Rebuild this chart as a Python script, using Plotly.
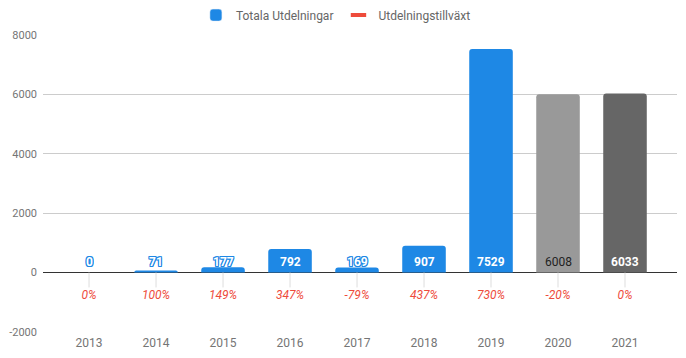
import plotly.graph_objects as go

years = ["2013", "2014", "2015", "2016", "2017", "2018", "2019", "2020", "2021"]
totals = [0, 71, 177, 792, 169, 907, 7529, 6008, 6033]
growth = ["0%", "100%", "149%", "347%", "-79%", "437%", "730%", "-20%", "0%"]
bar_colors = ["#1E88E5"] * 7 + ["#999999", "#666666"]
label_colors = ["#FFFFFF"] * 7 + ["#222222", "#FFFFFF"]
y_ticks = [-2000, 0, 2000, 4000, 6000, 8000]
y_ticktext = ["-2000", "0", "2000", "4000", "6000", "8000"]
growth_label_y = -800
tick_len = -500

fig = go.Figure()

# small category tick lines below the zero line
tx, ty = [], []
for yr in years:
    tx += [yr, yr, None]
    ty += [0, tick_len, None]
fig.add_trace(go.Scatter(x=tx, y=ty, mode="lines", line=dict(color="#DDDDDD", width=1),
                         showlegend=False, hoverinfo="skip"))

fig.add_trace(go.Bar(
    x=years, y=totals, name="Totala Utdelningar",
    marker=dict(color=bar_colors, line=dict(width=0)),
    width=0.65, showlegend=False, hoverinfo="skip",
))
# legend entries
fig.add_trace(go.Bar(x=[years[0]], y=[None], name="Totala Utdelningar",
                     marker=dict(color="#1E88E5"), showlegend=True, width=0.65))
fig.add_trace(go.Scatter(x=[years[0]], y=[None], name="Utdelningstillväxt",
                         mode="markers",
                         marker=dict(symbol="line-ew", size=11,
                                     line=dict(color="#EE4B3B", width=4))))
fig.add_trace(go.Scatter(
    x=years, y=[growth_label_y] * len(years), mode="text", text=growth,
    textfont=dict(family="Roboto", size=12, color="#EE4B3B", style="italic"),
    showlegend=False, hoverinfo="skip",
))

outline_shadow = ("1px 1px 0 #1E88E5, -1px -1px 0 #1E88E5, 1px -1px 0 #1E88E5, "
                  "-1px 1px 0 #1E88E5, 0 1px 0 #1E88E5, 0 -1px 0 #1E88E5, "
                  "1px 0 0 #1E88E5, -1px 0 0 #1E88E5")
for i, (v, c) in enumerate(zip(totals, label_colors)):
    outline = v < 600
    fig.add_annotation(
        x=i, y=0, xref="x", yref="y", xanchor="center", yanchor="bottom", yshift=2,
        showarrow=False, text=str(v),
        font=dict(family="Roboto", size=12, color=c,
                  weight=700 if c == "#FFFFFF" else 400,
                  shadow=outline_shadow if outline else "none"),
    )

fig.update_layout(
    width=686, height=358,
    margin=dict(l=35, r=17, t=27, b=34, autoexpand=False),
    paper_bgcolor="white", plot_bgcolor="white",
    barmode="overlay",
    font=dict(family="Roboto", size=12, color="#757575"),
    legend=dict(orientation="h", x=0.462, xanchor="center", y=1.067, yanchor="middle",
                font=dict(family="Roboto", size=12, color="#666666"),
                itemwidth=30, traceorder="normal"),
    xaxis=dict(type="category", range=[-0.687, 8.776], showgrid=False, zeroline=False,
               showline=False, ticks="", automargin=False, ticklabelstandoff=2,
               tickfont=dict(color="#757575")),
    yaxis=dict(range=[-2000, 8000], tickvals=y_ticks, ticktext=y_ticktext,
               gridcolor="#CCCCCC", gridwidth=1, zeroline=True, zerolinecolor="#333333",
               zerolinewidth=1, showline=False, ticks="", ticklabelstandoff=5,
               automargin=False, tickfont=dict(color="#757575", size=11)),
    barcornerradius=3,
)

fig.write_html("out.html")
